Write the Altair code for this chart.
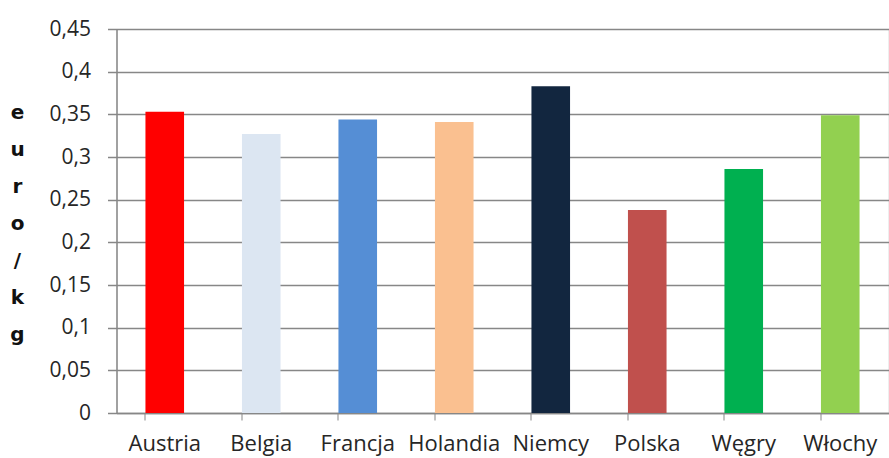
import altair as alt
import pandas as pd

# Average price per kilogram, by country
countries = ["Austria", "Belgia", "Francja", "Holandia", "Niemcy", "Polska", "Węgry", "Włochy"]
prices = [0.353, 0.327, 0.344, 0.341, 0.383, 0.238, 0.286, 0.349]
bar_colors = ["#FF0000", "#DCE6F2", "#558ED5", "#FAC090", "#12263F", "#C0504D", "#00B050", "#92D050"]
y_ticks = [0, 0.05, 0.1, 0.15, 0.2, 0.25, 0.3, 0.35, 0.4, 0.45]
y_title = ["e", "u", "r", "o", "/", "k", "g"]

df = pd.DataFrame({"kraj": countries, "cena": prices})

grid_gray = "#878787"
text_color = "#262626"

chart = (
    alt.Chart(df)
    .mark_bar()
    .encode(
        x=alt.X(
            "kraj:N",
            sort=countries,
            scale=alt.Scale(paddingInner=0.6, paddingOuter=0.3),
            axis=alt.Axis(
                title=None,
                labelAngle=0,
                labelFont="Open Sans",
                labelFontSize=22,
                labelColor=text_color,
                labelPadding=13,
                bandPosition=0,
                ticks=True,
                tickSize=7,
                tickColor=grid_gray,
                domainColor=grid_gray,
                domainWidth=1.5,
                grid=False,
            ),
        ),
        y=alt.Y(
            "cena:Q",
            scale=alt.Scale(domain=[0, 0.45], nice=False),
            axis=alt.Axis(
                values=y_ticks,
                labelExpr="replace(format(datum.value, '~g'), '.', ',')",
                labelFont="Open Sans",
                labelFontSize=21,
                labelColor=text_color,
                labelPadding=17,
                tickSize=9,
                tickColor=grid_gray,
                tickWidth=1.5,
                domainColor=grid_gray,
                domainWidth=1.5,
                grid=True,
                gridColor=grid_gray,
                gridWidth=1.5,
                title=y_title,
                titleAngle=0,
                titleFont="DejaVu Sans",
                titleFontSize=20,
                titleFontWeight="bold",
                titleColor="#111111",
                titleLineHeight=37,
                titleAlign="center",
                titleBaseline="alphabetic",
                titleX=-99.5,
                titleY=89.5,
            ),
        ),
        color=alt.Color(
            "kraj:N",
            sort=countries,
            scale=alt.Scale(domain=countries, range=bar_colors),
            legend=None,
        ),
    )
    .properties(
        width=772,
        height=384,
        autosize=alt.AutoSizeParams(type="none"),
        padding={"left": 116.5, "top": 29, "right": 0, "bottom": 45},
    )
    .configure_view(stroke=None)
    .configure(background="white")
)

chart.save("out.html", embed_options={"renderer": "svg", "actions": False})
